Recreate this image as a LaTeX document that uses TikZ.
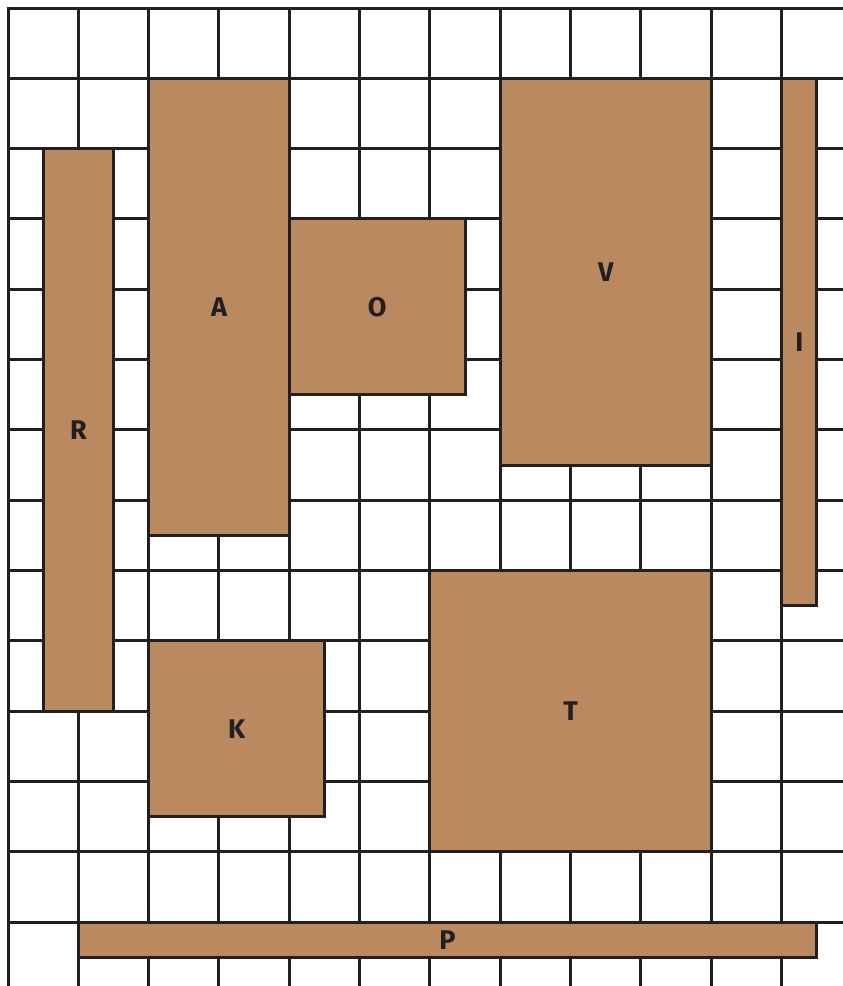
\documentclass[tikz,border=0pt]{standalone}
\usepackage{fontspec}
\setmainfont{Fira Sans}
\definecolor{ink}{HTML}{231F20}
\definecolor{wood}{HTML}{BB8960}
\tikzset{
  gridline/.style={draw=ink, line width=3pt},
  block/.style={draw=ink, fill=wood, line width=3pt},
  lbl/.style={text=ink, font=\fontsize{27}{30}\selectfont\bfseries, inner sep=0pt}
}
\begin{document}
\begin{tikzpicture}[x=1pt,y=-1pt]
\useasboundingbox (0,0) rectangle (843,986);
\fill[white] (0,0) rectangle (843,986);
\begin{scope}[shift={(8,8)}, x=70.33pt, y=-70.33pt]
  \foreach \i in {0,...,11} \draw[gridline] (\i,-0.02) -- (\i,13.95);
  \foreach \j in {0,...,13} \draw[gridline] (-0.02,\j) -- (12,\j);
  % blocks
  \draw[block] (0.5,2) rectangle (1.5,10);
  \draw[block] (2,1) rectangle (4,7.5);
  \draw[block] (4,3) rectangle (6.5,5.5);
  \draw[block] (7,1) rectangle (10,6.5);
  \draw[block] (11,1) rectangle (11.5,8.5);
  \draw[block] (6,8) rectangle (10,12);
  \draw[block] (2,9) rectangle (4.5,11.5);
  \draw[block] (1,13) rectangle (11.5,13.5);
  \node[lbl] (R) at (1,6) {R};
  \node[lbl] (A) at (3,4.25) {A};
  \node[lbl] (O) at (5.25,4.25) {O};
  \node[lbl] (V) at (8.5,3.75) {V};
  \node[lbl] (I) at (11.25,4.75) {I};
  \node[lbl] (T) at (8,10) {T};
  \node[lbl] (K) at (3.25,10.25) {K};
  \node[lbl] (P) at (6.25,13.25) {P};
\end{scope}
\end{tikzpicture}
\end{document}
